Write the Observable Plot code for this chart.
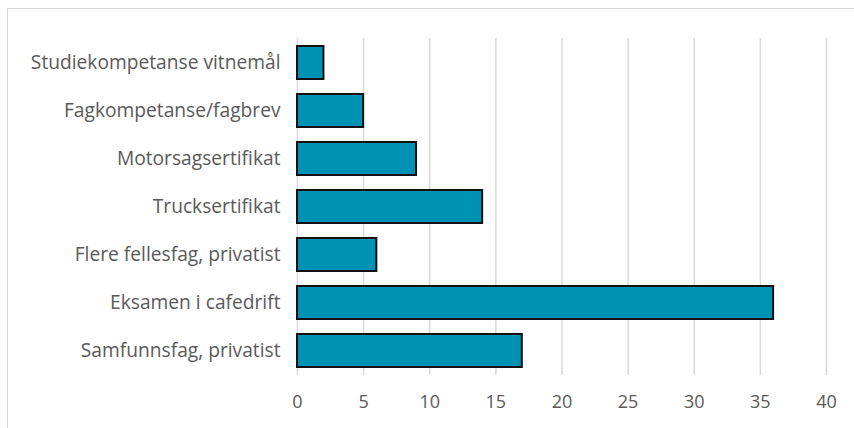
<!DOCTYPE html>
<html><head><meta charset="utf-8">
<script src="https://cdn.jsdelivr.net/npm/d3@7"></script>
<script src="https://cdn.jsdelivr.net/npm/@observablehq/plot@0.6"></script>
<style>
body{margin:0;background:#fff;overflow:hidden;}
#wrap{position:relative;width:854px;height:428px;}
#frame{position:absolute;left:7px;top:8px;width:900px;height:500px;border:1.5px solid #d9d9d9;box-sizing:border-box;pointer-events:none;}
svg{position:absolute;left:0;top:0;}
</style></head>
<body><div id="wrap"><div id="frame"></div></div>
<script>
const categories = ["Studiekompetanse vitnemål","Fagkompetanse/fagbrev","Motorsagsertifikat","Trucksertifikat","Flere fellesfag, privatist","Eksamen i cafedrift","Samfunnsfag, privatist"];
const values = [2,5,9,14,6,36,17];
const xTicks = [0,5,10,15,20,25,30,35,40];
const data = categories.map((c,i)=>({cat:c,v:values[i]}));
const chart = Plot.plot({
  width:854, height:428,
  marginLeft:297, marginRight:28, marginTop:38, marginBottom:53,
  style:{fontFamily:"'Open Sans', Lato, sans-serif", fontSize:"18px", color:"#595959", background:"transparent"},
  x:{domain:[0,40], label:null},
  y:{domain:categories, paddingInner:0.32, paddingOuter:0.15, label:null},
  marks:[
    Plot.ruleX(xTicks,{stroke:"#d9d9d9", strokeWidth:1.5}),
    Plot.barX(data,{y:"cat", x:"v", fill:"#0092B3", stroke:"#111", strokeWidth:2}),
    Plot.axisX({ticks:xTicks, tickSize:0, tickPadding:20, fontSize:18, label:null}),
    Plot.axisY({tickSize:0, tickPadding:17, fontSize:19.2, label:null})
  ]
});
document.getElementById("wrap").appendChild(chart);
</script></body></html>
